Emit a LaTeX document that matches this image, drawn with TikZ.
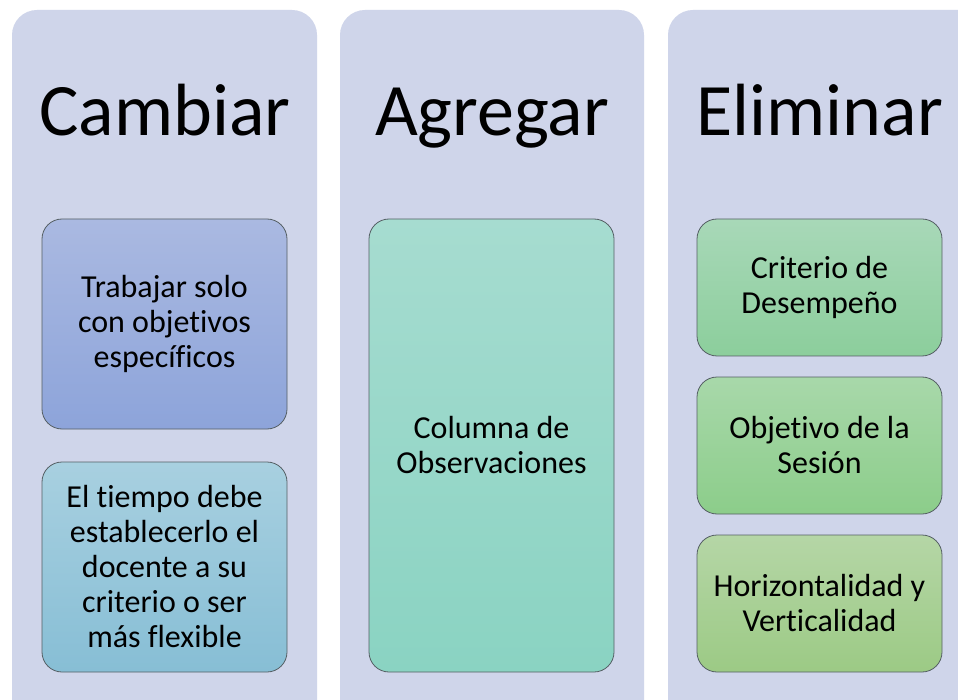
\documentclass[tikz,border=0pt]{standalone}
\usepackage{fontspec}
\setmainfont[Ligatures={NoCommon}]{Carlito}
\definecolor{colbg}{RGB}{207,213,234}
\definecolor{edge}{RGB}{85,95,100}
\definecolor{aT}{RGB}{170,185,225}
\definecolor{aB}{RGB}{141,164,218}
\definecolor{bT}{RGB}{168,208,224}
\definecolor{bB}{RGB}{135,190,213}
\definecolor{cT}{RGB}{166,220,208}
\definecolor{cB}{RGB}{138,211,194}
\definecolor{dT}{RGB}{168,216,184}
\definecolor{dB}{RGB}{140,206,156}
\definecolor{eT}{RGB}{168,216,170}
\definecolor{eB}{RGB}{140,205,138}
\definecolor{fT}{RGB}{181,214,166}
\definecolor{fB}{RGB}{156,202,133}
\tikzset{
  column/.style={fill=colbg, draw=none, rounded corners=25pt},
  itembox/.style={draw=edge, line width=0.8pt, rounded corners=20pt, shading=axis, shading angle=0},
  title/.style={font=\fontsize{74}{80}\selectfont, anchor=base},
  itemtext/.style={font=\fontsize{32}{35}\selectfont, align=center, text=black}
}
\begin{document}
\begin{tikzpicture}[x=1pt,y=-1pt]
\useasboundingbox (0,0) rectangle (958,700);
\clip (0,0) rectangle (958,700);
\fill[white] (0,0) rectangle (958,700);
% columns
\path[column] (12,10) rectangle (317,740);
\path[column] (340,10) rectangle (644,740);
\path[column] (668,10) rectangle (1000,740);
% titles
\node[title] (t1) at (165,136) {Cambiar};
\node[title] (t2) at (492,136) {Agregar};
\node[title] (t3) at (820,136) {Eliminar};
% boxes
\path[itembox, top color=aT, bottom color=aB] (42,219) rectangle (287,429);
\node[itemtext] (b1) at (164.5,324) {Trabajar solo\\con objetivos\\específicos};
\path[itembox, top color=bT, bottom color=bB] (42,462) rectangle (287,672);
\node[itemtext] (b2) at (164.5,567) {El tiempo debe\\establecerlo el\\docente a su\\criterio o ser\\más flexible};
\path[itembox, top color=cT, bottom color=cB] (369,219) rectangle (614,672);
\node[itemtext] (c1) at (491.5,445.5) {Columna de\\Observaciones};
\path[itembox, top color=dT, bottom color=dB] (697,219) rectangle (942,356);
\node[itemtext] (d1) at (819.5,287.5) {Criterio de\\Desempeño};
\path[itembox, top color=eT, bottom color=eB] (697,377) rectangle (942,514);
\node[itemtext] (d2) at (819.5,445.5) {Objetivo de la\\Sesión};
\path[itembox, top color=fT, bottom color=fB] (697,535) rectangle (942,672);
\node[itemtext] (d3) at (819.5,603.5) {Horizontalidad y\\Verticalidad};
\end{tikzpicture}
\end{document}
